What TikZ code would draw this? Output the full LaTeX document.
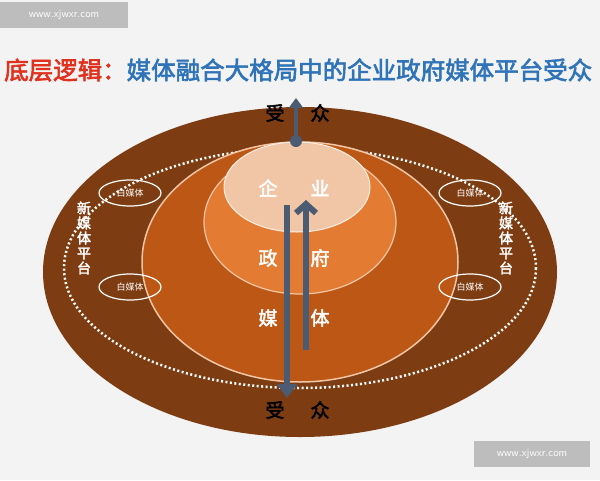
\documentclass[tikz,border=0pt]{standalone}
\usepackage{fontspec}
\newfontfamily\cjk{Noto Sans CJK SC}[AutoFakeBold=2.5]
\usetikzlibrary{arrows.meta}
\definecolor{bg}{HTML}{F3F3F3}
\definecolor{dbrown}{HTML}{7E3C12}
\definecolor{mbrown}{HTML}{BC5716}
\definecolor{orng}{HTML}{E37B32}
\definecolor{peach}{HTML}{F1C6A6}
\definecolor{slate}{HTML}{4B5B72}
\definecolor{ttlred}{HTML}{E0301E}
\definecolor{ttlblue}{HTML}{2F73B8}
\definecolor{wm}{HTML}{BDBDBD}
\tikzset{
  lbl/.style={font=\cjk\bfseries\fontsize{19}{19}\selectfont, text=white},
  aud/.style={font=\cjk\bfseries\fontsize{19}{19}\selectfont, text=black},
  arr/.style={draw=slate, line width=6pt, -{Triangle[length=14pt,width=20pt]}},
  wmark/.style={fill=wm, text=white, font=\sffamily\fontsize{11}{11}\selectfont, inner sep=0pt}
}
\begin{document}
\begin{tikzpicture}[x=1pt,y=-1pt]
\fill[bg] (0,0) rectangle (600,480);
\useasboundingbox (0,0) rectangle (600,480);
\node[wmark, minimum width=128pt, minimum height=26pt] (wm1) at (64,15) {www.xjwxr.com};
\node[wmark, minimum width=116pt, minimum height=26pt] (wm2) at (532,454) {www.xjwxr.com};
\node[anchor=west, inner sep=0pt, font=\cjk\bfseries\fontsize{24.5}{24.5}\selectfont] (title) at (4,70)
  {\textcolor{ttlred}{底层逻辑：}\textcolor{ttlblue}{媒体融合大格局中的企业政府媒体平台受众}};
% ellipses
\fill[dbrown] (300,272) ellipse [x radius=257, y radius=165];
\draw[white, line width=2.5pt, dash pattern=on 2pt off 2.5pt] (300,268) ellipse [x radius=236, y radius=120];
\draw[draw=peach, line width=1.5pt, fill=mbrown] (300,262) ellipse [x radius=158, y radius=120];
\draw[draw=peach, line width=1.2pt, fill=orng] (300,222) ellipse [x radius=96, y radius=72];
\draw[draw=white!70!peach, line width=1pt, fill=peach] (297,187) ellipse [x radius=73, y radius=45];
% small ellipses
\foreach \n/\x/\y in {a/130/193,b/130/287,c/470/193,d/470/287}{
  \draw[white, line width=1.2pt] (\x,\y) ellipse [x radius=31, y radius=13];
  \node[font=\cjk\fontsize{9}{9}\selectfont, text=white] (s\n) at (\x,\y) {白媒体};
}
\node[font=\cjk\bfseries\fontsize{14}{15}\selectfont, text=white, align=center] (nl) at (84,238) {新\\媒\\体\\平\\台};
\node[font=\cjk\bfseries\fontsize{14}{15}\selectfont, text=white, align=center] (nr) at (506,238) {新\\媒\\体\\平\\台};
% labels
\node[lbl] (q1) at (268,188) {企};
\node[lbl] (q2) at (320,188) {业};
\node[lbl] (z1) at (268,258) {政};
\node[lbl] (z2) at (320,258) {府};
\node[lbl] (m1) at (268,318) {媒};
\node[lbl] (m2) at (320,318) {体};
\node[aud] (t1) at (275,113) {受};
\node[aud] (t2) at (320,113) {众};
\node[aud] (b1) at (275,410) {受};
\node[aud] (b2) at (320,410) {众};
% arrows
\coordinate (dot) at (296,141);
\coordinate (dotend) at (296,98);
\fill[slate] (dot) circle (6);
\draw[arr, line width=4pt, -{Triangle[length=10pt,width=14pt]}] (dot) -- (dotend);
\coordinate (d0) at (287,205);
\coordinate (d1) at (287,398);
\draw[arr] (d0) -- (d1);
\coordinate (u0) at (306,350);
\coordinate (u1) at (306,200);
\draw[arr, -{Straight Barb[length=9pt,width=20pt]}] (u0) -- (u1);
\end{tikzpicture}
\end{document}
